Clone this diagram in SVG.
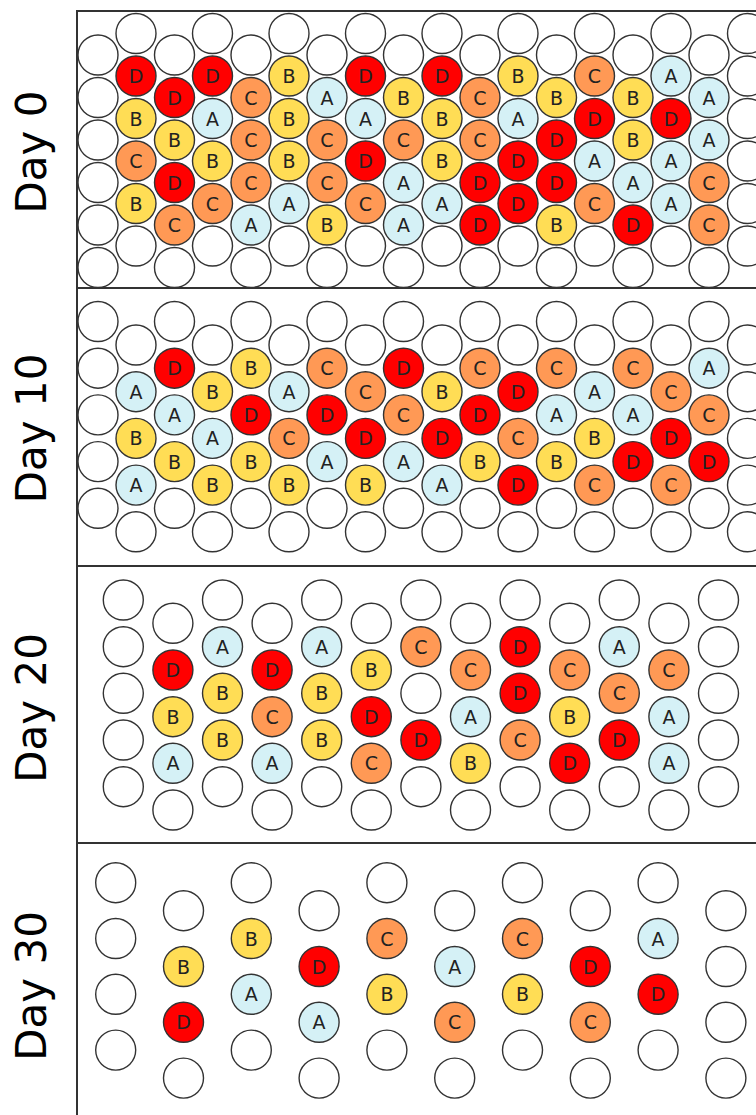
<svg xmlns="http://www.w3.org/2000/svg" width="756" height="1115" viewBox="0 0 756 1115">
<style>
circle{stroke:#333;stroke-width:1.4}
.w{fill:#fff}
.A circle{fill:#d5f1f6}
.B circle{fill:#ffdd55}
.C circle{fill:#ff9955}
.D circle{fill:#ff0000}
g text{font-family:"DejaVu Sans","Liberation Sans",sans-serif;font-size:19px;fill:#222;text-anchor:middle}
.frame{fill:none;stroke:#333;stroke-width:2}
.lbl{font-family:"DejaVu Sans","Liberation Sans",sans-serif;font-size:42px;fill:#000;text-anchor:middle}
</style>
<rect width="756" height="1115" fill="#fff"/>
<g id="day0">
<circle class="w" cx="98" cy="55" r="20"/><circle class="w" cx="98" cy="97.5" r="20"/><circle class="w" cx="98" cy="140" r="20"/><circle class="w" cx="98" cy="182.5" r="20"/><circle class="w" cx="98" cy="225" r="20"/><circle class="w" cx="98" cy="267.5" r="20"/>
<circle class="w" cx="747.5" cy="33.5" r="20"/><circle class="w" cx="747.5" cy="76" r="20"/><circle class="w" cx="747.5" cy="118.5" r="20"/><circle class="w" cx="747.5" cy="161" r="20"/><circle class="w" cx="747.5" cy="203.5" r="20"/><circle class="w" cx="747.5" cy="246" r="20"/>
<circle class="w" cx="136" cy="33.5" r="20"/><circle class="w" cx="136" cy="246" r="20"/>
<circle class="w" cx="212.5" cy="33.5" r="20"/><circle class="w" cx="212.5" cy="246" r="20"/>
<circle class="w" cx="289" cy="33.5" r="20"/><circle class="w" cx="289" cy="246" r="20"/>
<circle class="w" cx="365.5" cy="33.5" r="20"/><circle class="w" cx="365.5" cy="246" r="20"/>
<circle class="w" cx="442" cy="33.5" r="20"/><circle class="w" cx="442" cy="246" r="20"/>
<circle class="w" cx="518" cy="33.5" r="20"/><circle class="w" cx="518" cy="246" r="20"/>
<circle class="w" cx="594.5" cy="33.5" r="20"/><circle class="w" cx="594.5" cy="246" r="20"/>
<circle class="w" cx="671" cy="33.5" r="20"/><circle class="w" cx="671" cy="246" r="20"/>
<circle class="w" cx="174.5" cy="55" r="20"/><circle class="w" cx="174.5" cy="267.5" r="20"/>
<circle class="w" cx="251" cy="55" r="20"/><circle class="w" cx="251" cy="267.5" r="20"/>
<circle class="w" cx="327" cy="55" r="20"/><circle class="w" cx="327" cy="267.5" r="20"/>
<circle class="w" cx="403.5" cy="55" r="20"/><circle class="w" cx="403.5" cy="267.5" r="20"/>
<circle class="w" cx="480" cy="55" r="20"/><circle class="w" cx="480" cy="267.5" r="20"/>
<circle class="w" cx="556.5" cy="55" r="20"/><circle class="w" cx="556.5" cy="267.5" r="20"/>
<circle class="w" cx="633" cy="55" r="20"/><circle class="w" cx="633" cy="267.5" r="20"/>
<circle class="w" cx="709" cy="55" r="20"/><circle class="w" cx="709" cy="267.5" r="20"/>
<g id="d0-1-1" class="D"><circle cx="136" cy="76" r="20"/><text x="136" y="83">D</text></g>
<g id="d0-1-2" class="B"><circle cx="136" cy="118.5" r="20"/><text x="136" y="125.5">B</text></g>
<g id="d0-1-3" class="C"><circle cx="136" cy="161" r="20"/><text x="136" y="168">C</text></g>
<g id="d0-1-4" class="B"><circle cx="136" cy="203.5" r="20"/><text x="136" y="210.5">B</text></g>
<g id="d0-2-1" class="D"><circle cx="174.5" cy="97.5" r="20"/><text x="174.5" y="104.5">D</text></g>
<g id="d0-2-2" class="B"><circle cx="174.5" cy="140" r="20"/><text x="174.5" y="147">B</text></g>
<g id="d0-2-3" class="D"><circle cx="174.5" cy="182.5" r="20"/><text x="174.5" y="189.5">D</text></g>
<g id="d0-2-4" class="C"><circle cx="174.5" cy="225" r="20"/><text x="174.5" y="232">C</text></g>
<g id="d0-3-1" class="D"><circle cx="212.5" cy="76" r="20"/><text x="212.5" y="83">D</text></g>
<g id="d0-3-2" class="A"><circle cx="212.5" cy="118.5" r="20"/><text x="212.5" y="125.5">A</text></g>
<g id="d0-3-3" class="B"><circle cx="212.5" cy="161" r="20"/><text x="212.5" y="168">B</text></g>
<g id="d0-3-4" class="C"><circle cx="212.5" cy="203.5" r="20"/><text x="212.5" y="210.5">C</text></g>
<g id="d0-4-1" class="C"><circle cx="251" cy="97.5" r="20"/><text x="251" y="104.5">C</text></g>
<g id="d0-4-2" class="C"><circle cx="251" cy="140" r="20"/><text x="251" y="147">C</text></g>
<g id="d0-4-3" class="C"><circle cx="251" cy="182.5" r="20"/><text x="251" y="189.5">C</text></g>
<g id="d0-4-4" class="A"><circle cx="251" cy="225" r="20"/><text x="251" y="232">A</text></g>
<g id="d0-5-1" class="B"><circle cx="289" cy="76" r="20"/><text x="289" y="83">B</text></g>
<g id="d0-5-2" class="B"><circle cx="289" cy="118.5" r="20"/><text x="289" y="125.5">B</text></g>
<g id="d0-5-3" class="B"><circle cx="289" cy="161" r="20"/><text x="289" y="168">B</text></g>
<g id="d0-5-4" class="A"><circle cx="289" cy="203.5" r="20"/><text x="289" y="210.5">A</text></g>
<g id="d0-6-1" class="A"><circle cx="327" cy="97.5" r="20"/><text x="327" y="104.5">A</text></g>
<g id="d0-6-2" class="C"><circle cx="327" cy="140" r="20"/><text x="327" y="147">C</text></g>
<g id="d0-6-3" class="C"><circle cx="327" cy="182.5" r="20"/><text x="327" y="189.5">C</text></g>
<g id="d0-6-4" class="B"><circle cx="327" cy="225" r="20"/><text x="327" y="232">B</text></g>
<g id="d0-7-1" class="D"><circle cx="365.5" cy="76" r="20"/><text x="365.5" y="83">D</text></g>
<g id="d0-7-2" class="A"><circle cx="365.5" cy="118.5" r="20"/><text x="365.5" y="125.5">A</text></g>
<g id="d0-7-3" class="D"><circle cx="365.5" cy="161" r="20"/><text x="365.5" y="168">D</text></g>
<g id="d0-7-4" class="C"><circle cx="365.5" cy="203.5" r="20"/><text x="365.5" y="210.5">C</text></g>
<g id="d0-8-1" class="B"><circle cx="403.5" cy="97.5" r="20"/><text x="403.5" y="104.5">B</text></g>
<g id="d0-8-2" class="C"><circle cx="403.5" cy="140" r="20"/><text x="403.5" y="147">C</text></g>
<g id="d0-8-3" class="A"><circle cx="403.5" cy="182.5" r="20"/><text x="403.5" y="189.5">A</text></g>
<g id="d0-8-4" class="A"><circle cx="403.5" cy="225" r="20"/><text x="403.5" y="232">A</text></g>
<g id="d0-9-1" class="D"><circle cx="442" cy="76" r="20"/><text x="442" y="83">D</text></g>
<g id="d0-9-2" class="B"><circle cx="442" cy="118.5" r="20"/><text x="442" y="125.5">B</text></g>
<g id="d0-9-3" class="B"><circle cx="442" cy="161" r="20"/><text x="442" y="168">B</text></g>
<g id="d0-9-4" class="A"><circle cx="442" cy="203.5" r="20"/><text x="442" y="210.5">A</text></g>
<g id="d0-10-1" class="C"><circle cx="480" cy="97.5" r="20"/><text x="480" y="104.5">C</text></g>
<g id="d0-10-2" class="C"><circle cx="480" cy="140" r="20"/><text x="480" y="147">C</text></g>
<g id="d0-10-3" class="D"><circle cx="480" cy="182.5" r="20"/><text x="480" y="189.5">D</text></g>
<g id="d0-10-4" class="D"><circle cx="480" cy="225" r="20"/><text x="480" y="232">D</text></g>
<g id="d0-11-1" class="B"><circle cx="518" cy="76" r="20"/><text x="518" y="83">B</text></g>
<g id="d0-11-2" class="A"><circle cx="518" cy="118.5" r="20"/><text x="518" y="125.5">A</text></g>
<g id="d0-11-3" class="D"><circle cx="518" cy="161" r="20"/><text x="518" y="168">D</text></g>
<g id="d0-11-4" class="D"><circle cx="518" cy="203.5" r="20"/><text x="518" y="210.5">D</text></g>
<g id="d0-12-1" class="B"><circle cx="556.5" cy="97.5" r="20"/><text x="556.5" y="104.5">B</text></g>
<g id="d0-12-2" class="D"><circle cx="556.5" cy="140" r="20"/><text x="556.5" y="147">D</text></g>
<g id="d0-12-3" class="D"><circle cx="556.5" cy="182.5" r="20"/><text x="556.5" y="189.5">D</text></g>
<g id="d0-12-4" class="B"><circle cx="556.5" cy="225" r="20"/><text x="556.5" y="232">B</text></g>
<g id="d0-13-1" class="C"><circle cx="594.5" cy="76" r="20"/><text x="594.5" y="83">C</text></g>
<g id="d0-13-2" class="D"><circle cx="594.5" cy="118.5" r="20"/><text x="594.5" y="125.5">D</text></g>
<g id="d0-13-3" class="A"><circle cx="594.5" cy="161" r="20"/><text x="594.5" y="168">A</text></g>
<g id="d0-13-4" class="C"><circle cx="594.5" cy="203.5" r="20"/><text x="594.5" y="210.5">C</text></g>
<g id="d0-14-1" class="B"><circle cx="633" cy="97.5" r="20"/><text x="633" y="104.5">B</text></g>
<g id="d0-14-2" class="B"><circle cx="633" cy="140" r="20"/><text x="633" y="147">B</text></g>
<g id="d0-14-3" class="A"><circle cx="633" cy="182.5" r="20"/><text x="633" y="189.5">A</text></g>
<g id="d0-14-4" class="D"><circle cx="633" cy="225" r="20"/><text x="633" y="232">D</text></g>
<g id="d0-15-1" class="A"><circle cx="671" cy="76" r="20"/><text x="671" y="83">A</text></g>
<g id="d0-15-2" class="D"><circle cx="671" cy="118.5" r="20"/><text x="671" y="125.5">D</text></g>
<g id="d0-15-3" class="A"><circle cx="671" cy="161" r="20"/><text x="671" y="168">A</text></g>
<g id="d0-15-4" class="A"><circle cx="671" cy="203.5" r="20"/><text x="671" y="210.5">A</text></g>
<g id="d0-16-1" class="A"><circle cx="709" cy="97.5" r="20"/><text x="709" y="104.5">A</text></g>
<g id="d0-16-2" class="A"><circle cx="709" cy="140" r="20"/><text x="709" y="147">A</text></g>
<g id="d0-16-3" class="C"><circle cx="709" cy="182.5" r="20"/><text x="709" y="189.5">C</text></g>
<g id="d0-16-4" class="C"><circle cx="709" cy="225" r="20"/><text x="709" y="232">C</text></g>
</g>
<g id="day10">
<circle class="w" cx="98" cy="321.5" r="20"/><circle class="w" cx="98" cy="368.2" r="20"/><circle class="w" cx="98" cy="414.9" r="20"/><circle class="w" cx="98" cy="461.6" r="20"/><circle class="w" cx="98" cy="508.3" r="20"/>
<circle class="w" cx="747.5" cy="345" r="20"/><circle class="w" cx="747.5" cy="391.7" r="20"/><circle class="w" cx="747.5" cy="438.4" r="20"/><circle class="w" cx="747.5" cy="485.1" r="20"/><circle class="w" cx="747.5" cy="531.8" r="20"/>
<circle class="w" cx="136" cy="345" r="20"/><circle class="w" cx="136" cy="531.8" r="20"/>
<circle class="w" cx="212.5" cy="345" r="20"/><circle class="w" cx="212.5" cy="531.8" r="20"/>
<circle class="w" cx="289" cy="345" r="20"/><circle class="w" cx="289" cy="531.8" r="20"/>
<circle class="w" cx="365.5" cy="345" r="20"/><circle class="w" cx="365.5" cy="531.8" r="20"/>
<circle class="w" cx="442" cy="345" r="20"/><circle class="w" cx="442" cy="531.8" r="20"/>
<circle class="w" cx="518" cy="345" r="20"/><circle class="w" cx="518" cy="531.8" r="20"/>
<circle class="w" cx="594.5" cy="345" r="20"/><circle class="w" cx="594.5" cy="531.8" r="20"/>
<circle class="w" cx="671" cy="345" r="20"/><circle class="w" cx="671" cy="531.8" r="20"/>
<circle class="w" cx="174.5" cy="321.5" r="20"/><circle class="w" cx="174.5" cy="508.3" r="20"/>
<circle class="w" cx="251" cy="321.5" r="20"/><circle class="w" cx="251" cy="508.3" r="20"/>
<circle class="w" cx="327" cy="321.5" r="20"/><circle class="w" cx="327" cy="508.3" r="20"/>
<circle class="w" cx="403.5" cy="321.5" r="20"/><circle class="w" cx="403.5" cy="508.3" r="20"/>
<circle class="w" cx="480" cy="321.5" r="20"/><circle class="w" cx="480" cy="508.3" r="20"/>
<circle class="w" cx="556.5" cy="321.5" r="20"/><circle class="w" cx="556.5" cy="508.3" r="20"/>
<circle class="w" cx="633" cy="321.5" r="20"/><circle class="w" cx="633" cy="508.3" r="20"/>
<circle class="w" cx="709" cy="321.5" r="20"/><circle class="w" cx="709" cy="508.3" r="20"/>
<g id="d10-1-1" class="A"><circle cx="136" cy="391.7" r="20"/><text x="136" y="398.7">A</text></g>
<g id="d10-1-2" class="B"><circle cx="136" cy="438.4" r="20"/><text x="136" y="445.4">B</text></g>
<g id="d10-1-3" class="A"><circle cx="136" cy="485.1" r="20"/><text x="136" y="492.1">A</text></g>
<g id="d10-2-1" class="D"><circle cx="174.5" cy="368.2" r="20"/><text x="174.5" y="375.2">D</text></g>
<g id="d10-2-2" class="A"><circle cx="174.5" cy="414.9" r="20"/><text x="174.5" y="421.9">A</text></g>
<g id="d10-2-3" class="B"><circle cx="174.5" cy="461.6" r="20"/><text x="174.5" y="468.6">B</text></g>
<g id="d10-3-1" class="B"><circle cx="212.5" cy="391.7" r="20"/><text x="212.5" y="398.7">B</text></g>
<g id="d10-3-2" class="A"><circle cx="212.5" cy="438.4" r="20"/><text x="212.5" y="445.4">A</text></g>
<g id="d10-3-3" class="B"><circle cx="212.5" cy="485.1" r="20"/><text x="212.5" y="492.1">B</text></g>
<g id="d10-4-1" class="B"><circle cx="251" cy="368.2" r="20"/><text x="251" y="375.2">B</text></g>
<g id="d10-4-2" class="D"><circle cx="251" cy="414.9" r="20"/><text x="251" y="421.9">D</text></g>
<g id="d10-4-3" class="B"><circle cx="251" cy="461.6" r="20"/><text x="251" y="468.6">B</text></g>
<g id="d10-5-1" class="A"><circle cx="289" cy="391.7" r="20"/><text x="289" y="398.7">A</text></g>
<g id="d10-5-2" class="C"><circle cx="289" cy="438.4" r="20"/><text x="289" y="445.4">C</text></g>
<g id="d10-5-3" class="B"><circle cx="289" cy="485.1" r="20"/><text x="289" y="492.1">B</text></g>
<g id="d10-6-1" class="C"><circle cx="327" cy="368.2" r="20"/><text x="327" y="375.2">C</text></g>
<g id="d10-6-2" class="D"><circle cx="327" cy="414.9" r="20"/><text x="327" y="421.9">D</text></g>
<g id="d10-6-3" class="A"><circle cx="327" cy="461.6" r="20"/><text x="327" y="468.6">A</text></g>
<g id="d10-7-1" class="C"><circle cx="365.5" cy="391.7" r="20"/><text x="365.5" y="398.7">C</text></g>
<g id="d10-7-2" class="D"><circle cx="365.5" cy="438.4" r="20"/><text x="365.5" y="445.4">D</text></g>
<g id="d10-7-3" class="B"><circle cx="365.5" cy="485.1" r="20"/><text x="365.5" y="492.1">B</text></g>
<g id="d10-8-1" class="D"><circle cx="403.5" cy="368.2" r="20"/><text x="403.5" y="375.2">D</text></g>
<g id="d10-8-2" class="C"><circle cx="403.5" cy="414.9" r="20"/><text x="403.5" y="421.9">C</text></g>
<g id="d10-8-3" class="A"><circle cx="403.5" cy="461.6" r="20"/><text x="403.5" y="468.6">A</text></g>
<g id="d10-9-1" class="B"><circle cx="442" cy="391.7" r="20"/><text x="442" y="398.7">B</text></g>
<g id="d10-9-2" class="D"><circle cx="442" cy="438.4" r="20"/><text x="442" y="445.4">D</text></g>
<g id="d10-9-3" class="A"><circle cx="442" cy="485.1" r="20"/><text x="442" y="492.1">A</text></g>
<g id="d10-10-1" class="C"><circle cx="480" cy="368.2" r="20"/><text x="480" y="375.2">C</text></g>
<g id="d10-10-2" class="D"><circle cx="480" cy="414.9" r="20"/><text x="480" y="421.9">D</text></g>
<g id="d10-10-3" class="B"><circle cx="480" cy="461.6" r="20"/><text x="480" y="468.6">B</text></g>
<g id="d10-11-1" class="D"><circle cx="518" cy="391.7" r="20"/><text x="518" y="398.7">D</text></g>
<g id="d10-11-2" class="C"><circle cx="518" cy="438.4" r="20"/><text x="518" y="445.4">C</text></g>
<g id="d10-11-3" class="D"><circle cx="518" cy="485.1" r="20"/><text x="518" y="492.1">D</text></g>
<g id="d10-12-1" class="C"><circle cx="556.5" cy="368.2" r="20"/><text x="556.5" y="375.2">C</text></g>
<g id="d10-12-2" class="A"><circle cx="556.5" cy="414.9" r="20"/><text x="556.5" y="421.9">A</text></g>
<g id="d10-12-3" class="B"><circle cx="556.5" cy="461.6" r="20"/><text x="556.5" y="468.6">B</text></g>
<g id="d10-13-1" class="A"><circle cx="594.5" cy="391.7" r="20"/><text x="594.5" y="398.7">A</text></g>
<g id="d10-13-2" class="B"><circle cx="594.5" cy="438.4" r="20"/><text x="594.5" y="445.4">B</text></g>
<g id="d10-13-3" class="C"><circle cx="594.5" cy="485.1" r="20"/><text x="594.5" y="492.1">C</text></g>
<g id="d10-14-1" class="C"><circle cx="633" cy="368.2" r="20"/><text x="633" y="375.2">C</text></g>
<g id="d10-14-2" class="A"><circle cx="633" cy="414.9" r="20"/><text x="633" y="421.9">A</text></g>
<g id="d10-14-3" class="D"><circle cx="633" cy="461.6" r="20"/><text x="633" y="468.6">D</text></g>
<g id="d10-15-1" class="C"><circle cx="671" cy="391.7" r="20"/><text x="671" y="398.7">C</text></g>
<g id="d10-15-2" class="D"><circle cx="671" cy="438.4" r="20"/><text x="671" y="445.4">D</text></g>
<g id="d10-15-3" class="C"><circle cx="671" cy="485.1" r="20"/><text x="671" y="492.1">C</text></g>
<g id="d10-16-1" class="A"><circle cx="709" cy="368.2" r="20"/><text x="709" y="375.2">A</text></g>
<g id="d10-16-2" class="C"><circle cx="709" cy="414.9" r="20"/><text x="709" y="421.9">C</text></g>
<g id="d10-16-3" class="D"><circle cx="709" cy="461.6" r="20"/><text x="709" y="468.6">D</text></g>
</g>
<g id="day20">
<circle class="w" cx="123.3" cy="600" r="20"/><circle class="w" cx="123.3" cy="646.7" r="20"/><circle class="w" cx="123.3" cy="693.3" r="20"/><circle class="w" cx="123.3" cy="740" r="20"/><circle class="w" cx="123.3" cy="786.7" r="20"/>
<circle class="w" cx="718.5" cy="600" r="20"/><circle class="w" cx="718.5" cy="646.7" r="20"/><circle class="w" cx="718.5" cy="693.3" r="20"/><circle class="w" cx="718.5" cy="740" r="20"/><circle class="w" cx="718.5" cy="786.7" r="20"/>
<circle class="w" cx="172.9" cy="623.3" r="20"/><circle class="w" cx="172.9" cy="810" r="20"/>
<circle class="w" cx="272.1" cy="623.3" r="20"/><circle class="w" cx="272.1" cy="810" r="20"/>
<circle class="w" cx="371.3" cy="623.3" r="20"/><circle class="w" cx="371.3" cy="810" r="20"/>
<circle class="w" cx="470.5" cy="623.3" r="20"/><circle class="w" cx="470.5" cy="810" r="20"/>
<circle class="w" cx="569.7" cy="623.3" r="20"/><circle class="w" cx="569.7" cy="810" r="20"/>
<circle class="w" cx="668.9" cy="623.3" r="20"/><circle class="w" cx="668.9" cy="810" r="20"/>
<circle class="w" cx="222.5" cy="600" r="20"/><circle class="w" cx="222.5" cy="786.7" r="20"/>
<circle class="w" cx="321.7" cy="600" r="20"/><circle class="w" cx="321.7" cy="786.7" r="20"/>
<circle class="w" cx="420.9" cy="600" r="20"/><circle class="w" cx="420.9" cy="786.7" r="20"/><circle class="w" cx="420.9" cy="693.3" r="20"/>
<circle class="w" cx="520.1" cy="600" r="20"/><circle class="w" cx="520.1" cy="786.7" r="20"/>
<circle class="w" cx="619.3" cy="600" r="20"/><circle class="w" cx="619.3" cy="786.7" r="20"/>
<g id="d20-1-1" class="D"><circle cx="172.9" cy="670" r="20"/><text x="172.9" y="677">D</text></g>
<g id="d20-1-2" class="B"><circle cx="172.9" cy="716.7" r="20"/><text x="172.9" y="723.7">B</text></g>
<g id="d20-1-3" class="A"><circle cx="172.9" cy="763.3" r="20"/><text x="172.9" y="770.3">A</text></g>
<g id="d20-2-1" class="A"><circle cx="222.5" cy="646.7" r="20"/><text x="222.5" y="653.7">A</text></g>
<g id="d20-2-2" class="B"><circle cx="222.5" cy="693.3" r="20"/><text x="222.5" y="700.3">B</text></g>
<g id="d20-2-3" class="B"><circle cx="222.5" cy="740" r="20"/><text x="222.5" y="747">B</text></g>
<g id="d20-3-1" class="D"><circle cx="272.1" cy="670" r="20"/><text x="272.1" y="677">D</text></g>
<g id="d20-3-2" class="C"><circle cx="272.1" cy="716.7" r="20"/><text x="272.1" y="723.7">C</text></g>
<g id="d20-3-3" class="A"><circle cx="272.1" cy="763.3" r="20"/><text x="272.1" y="770.3">A</text></g>
<g id="d20-4-1" class="A"><circle cx="321.7" cy="646.7" r="20"/><text x="321.7" y="653.7">A</text></g>
<g id="d20-4-2" class="B"><circle cx="321.7" cy="693.3" r="20"/><text x="321.7" y="700.3">B</text></g>
<g id="d20-4-3" class="B"><circle cx="321.7" cy="740" r="20"/><text x="321.7" y="747">B</text></g>
<g id="d20-5-1" class="B"><circle cx="371.3" cy="670" r="20"/><text x="371.3" y="677">B</text></g>
<g id="d20-5-2" class="D"><circle cx="371.3" cy="716.7" r="20"/><text x="371.3" y="723.7">D</text></g>
<g id="d20-5-3" class="C"><circle cx="371.3" cy="763.3" r="20"/><text x="371.3" y="770.3">C</text></g>
<g id="d20-6-1" class="C"><circle cx="420.9" cy="646.7" r="20"/><text x="420.9" y="653.7">C</text></g>
<g id="d20-6-3" class="D"><circle cx="420.9" cy="740" r="20"/><text x="420.9" y="747">D</text></g>
<g id="d20-7-1" class="C"><circle cx="470.5" cy="670" r="20"/><text x="470.5" y="677">C</text></g>
<g id="d20-7-2" class="A"><circle cx="470.5" cy="716.7" r="20"/><text x="470.5" y="723.7">A</text></g>
<g id="d20-7-3" class="B"><circle cx="470.5" cy="763.3" r="20"/><text x="470.5" y="770.3">B</text></g>
<g id="d20-8-1" class="D"><circle cx="520.1" cy="646.7" r="20"/><text x="520.1" y="653.7">D</text></g>
<g id="d20-8-2" class="D"><circle cx="520.1" cy="693.3" r="20"/><text x="520.1" y="700.3">D</text></g>
<g id="d20-8-3" class="C"><circle cx="520.1" cy="740" r="20"/><text x="520.1" y="747">C</text></g>
<g id="d20-9-1" class="C"><circle cx="569.7" cy="670" r="20"/><text x="569.7" y="677">C</text></g>
<g id="d20-9-2" class="B"><circle cx="569.7" cy="716.7" r="20"/><text x="569.7" y="723.7">B</text></g>
<g id="d20-9-3" class="D"><circle cx="569.7" cy="763.3" r="20"/><text x="569.7" y="770.3">D</text></g>
<g id="d20-10-1" class="A"><circle cx="619.3" cy="646.7" r="20"/><text x="619.3" y="653.7">A</text></g>
<g id="d20-10-2" class="C"><circle cx="619.3" cy="693.3" r="20"/><text x="619.3" y="700.3">C</text></g>
<g id="d20-10-3" class="D"><circle cx="619.3" cy="740" r="20"/><text x="619.3" y="747">D</text></g>
<g id="d20-11-1" class="C"><circle cx="668.9" cy="670" r="20"/><text x="668.9" y="677">C</text></g>
<g id="d20-11-2" class="A"><circle cx="668.9" cy="716.7" r="20"/><text x="668.9" y="723.7">A</text></g>
<g id="d20-11-3" class="A"><circle cx="668.9" cy="763.3" r="20"/><text x="668.9" y="770.3">A</text></g>
</g>
<g id="day30">
<circle class="w" cx="115.7" cy="882.7" r="20"/><circle class="w" cx="115.7" cy="938.5" r="20"/><circle class="w" cx="115.7" cy="994.3" r="20"/><circle class="w" cx="115.7" cy="1050.1" r="20"/>
<circle class="w" cx="725.9" cy="910.7" r="20"/><circle class="w" cx="725.9" cy="966.5" r="20"/><circle class="w" cx="725.9" cy="1022.3" r="20"/><circle class="w" cx="725.9" cy="1078.1" r="20"/>
<circle class="w" cx="183.5" cy="910.7" r="20"/><circle class="w" cx="183.5" cy="1078.1" r="20"/>
<circle class="w" cx="319.1" cy="910.7" r="20"/><circle class="w" cx="319.1" cy="1078.1" r="20"/>
<circle class="w" cx="454.7" cy="910.7" r="20"/><circle class="w" cx="454.7" cy="1078.1" r="20"/>
<circle class="w" cx="590.3" cy="910.7" r="20"/><circle class="w" cx="590.3" cy="1078.1" r="20"/>
<circle class="w" cx="251.3" cy="882.7" r="20"/><circle class="w" cx="251.3" cy="1050.1" r="20"/>
<circle class="w" cx="386.9" cy="882.7" r="20"/><circle class="w" cx="386.9" cy="1050.1" r="20"/>
<circle class="w" cx="522.5" cy="882.7" r="20"/><circle class="w" cx="522.5" cy="1050.1" r="20"/>
<circle class="w" cx="658.1" cy="882.7" r="20"/><circle class="w" cx="658.1" cy="1050.1" r="20"/>
<g id="d30-1-1" class="B"><circle cx="183.5" cy="966.5" r="20"/><text x="183.5" y="973.5">B</text></g>
<g id="d30-1-2" class="D"><circle cx="183.5" cy="1022.3" r="20"/><text x="183.5" y="1029.3">D</text></g>
<g id="d30-2-1" class="B"><circle cx="251.3" cy="938.5" r="20"/><text x="251.3" y="945.5">B</text></g>
<g id="d30-2-2" class="A"><circle cx="251.3" cy="994.3" r="20"/><text x="251.3" y="1001.3">A</text></g>
<g id="d30-3-1" class="D"><circle cx="319.1" cy="966.5" r="20"/><text x="319.1" y="973.5">D</text></g>
<g id="d30-3-2" class="A"><circle cx="319.1" cy="1022.3" r="20"/><text x="319.1" y="1029.3">A</text></g>
<g id="d30-4-1" class="C"><circle cx="386.9" cy="938.5" r="20"/><text x="386.9" y="945.5">C</text></g>
<g id="d30-4-2" class="B"><circle cx="386.9" cy="994.3" r="20"/><text x="386.9" y="1001.3">B</text></g>
<g id="d30-5-1" class="A"><circle cx="454.7" cy="966.5" r="20"/><text x="454.7" y="973.5">A</text></g>
<g id="d30-5-2" class="C"><circle cx="454.7" cy="1022.3" r="20"/><text x="454.7" y="1029.3">C</text></g>
<g id="d30-6-1" class="C"><circle cx="522.5" cy="938.5" r="20"/><text x="522.5" y="945.5">C</text></g>
<g id="d30-6-2" class="B"><circle cx="522.5" cy="994.3" r="20"/><text x="522.5" y="1001.3">B</text></g>
<g id="d30-7-1" class="D"><circle cx="590.3" cy="966.5" r="20"/><text x="590.3" y="973.5">D</text></g>
<g id="d30-7-2" class="C"><circle cx="590.3" cy="1022.3" r="20"/><text x="590.3" y="1029.3">C</text></g>
<g id="d30-8-1" class="A"><circle cx="658.1" cy="938.5" r="20"/><text x="658.1" y="945.5">A</text></g>
<g id="d30-8-2" class="D"><circle cx="658.1" cy="994.3" r="20"/><text x="658.1" y="1001.3">D</text></g>
</g>
<g id="frames">
<rect class="frame" x="77" y="11" width="700" height="277"/>
<rect class="frame" x="77" y="288" width="700" height="278"/>
<rect class="frame" x="77" y="566" width="700" height="277"/>
<rect class="frame" x="77" y="843" width="700" height="290"/>
</g>
<g id="labels">
<text class="lbl" transform="translate(46,152) rotate(-90)">Day 0</text>
<text class="lbl" transform="translate(46,428.5) rotate(-90)">Day 10</text>
<text class="lbl" transform="translate(46,708) rotate(-90)">Day 20</text>
<text class="lbl" transform="translate(46,986) rotate(-90)">Day 30</text>
</g>
</svg>
